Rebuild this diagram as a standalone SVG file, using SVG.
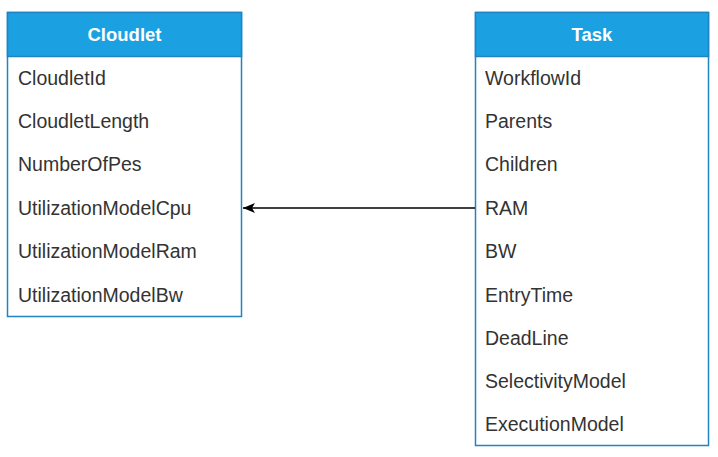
<svg xmlns="http://www.w3.org/2000/svg" width="718" height="457" viewBox="0 0 718 457">
<style>
.box{fill:#ffffff;stroke:#1f83c4;stroke-width:1.5}
.hdr{fill:#1ba1e2;stroke:#1f83c4;stroke-width:1.5}
.title{font-family:"Liberation Sans",Arial,sans-serif;font-size:18.5px;font-weight:bold;fill:#ffffff;text-anchor:middle}
.item{font-family:"Liberation Sans",Arial,sans-serif;font-size:19.5px;fill:#333333}
.edge{stroke:#000000;stroke-width:1.5;fill:none}
</style>
<defs>
<marker id="arr" markerWidth="14" markerHeight="12" refX="13" refY="6" orient="auto" markerUnits="userSpaceOnUse">
<path d="M1,1 L13,6 L1,11 L4,6 Z" fill="#000000"/>
</marker>
</defs>
<rect width="718" height="457" fill="#ffffff"/>
<g id="cloudlet">
<rect class="box" x="7.5" y="12.5" width="234" height="304"/>
<rect class="hdr" x="7.5" y="12.5" width="234" height="44"/>
<text class="title" x="124.5" y="41">Cloudlet</text>
<text class="item" x="18" y="85">CloudletId</text>
<text class="item" x="18" y="128">CloudletLength</text>
<text class="item" x="18" y="171">NumberOfPes</text>
<text class="item" x="18" y="215">UtilizationModelCpu</text>
<text class="item" x="18" y="258">UtilizationModelRam</text>
<text class="item" x="18" y="302">UtilizationModelBw</text>
</g>
<g id="task">
<rect class="box" x="475.5" y="12.5" width="233" height="433"/>
<rect class="hdr" x="475.5" y="12.5" width="233" height="44"/>
<text class="title" x="592" y="41">Task</text>
<text class="item" x="485" y="85">WorkflowId</text>
<text class="item" x="485" y="128">Parents</text>
<text class="item" x="485" y="171">Children</text>
<text class="item" x="485" y="215">RAM</text>
<text class="item" x="485" y="258">BW</text>
<text class="item" x="485" y="302">EntryTime</text>
<text class="item" x="485" y="345">DeadLine</text>
<text class="item" x="485" y="388">SelectivityModel</text>
<text class="item" x="485" y="431">ExecutionModel</text>
</g>
<g id="connectors">
<line class="edge" x1="475" y1="208" x2="243" y2="208" marker-end="url(#arr)"/>
</g>
</svg>
